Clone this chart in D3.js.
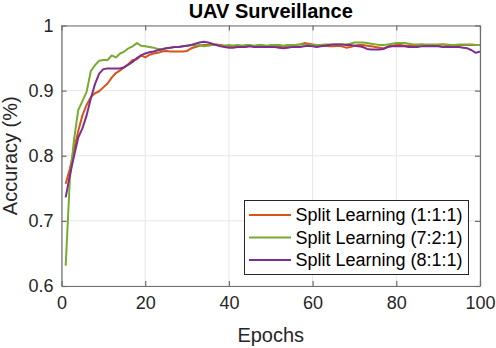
<!DOCTYPE html>
<html>
<head>
<meta charset="utf-8">
<script src="https://cdn.jsdelivr.net/npm/d3@7"></script>
<style>
  body { margin: 0; background: #fff; }
  svg { display: block; font-family: "Liberation Sans", Arial, Helvetica, sans-serif; }
</style>
</head>
<body>
<div id="chart"></div>
<script>
// chart data
var title = "UAV Surveillance";
var xLabel = "Epochs";
var yLabel = "Accuracy (%)";
var xTicks = [0, 20, 40, 60, 80, 100];
var yTicks = [0.6, 0.7, 0.8, 0.9, 1];
var seriesNames = ["Split Learning (1:1:1)", "Split Learning (7:2:1)", "Split Learning (8:1:1)"];
var seriesColors = ["#D95319", "#77AC30", "#7E2F8E"];

// accuracy per epoch (epochs 1..100)
var split111 = [
  0.757, 0.780, 0.810, 0.838, 0.862, 0.878, 0.890, 0.896, 0.899, 0.905,
  0.911, 0.920, 0.927, 0.931, 0.936, 0.941, 0.947, 0.948, 0.954, 0.951,
  0.955, 0.957, 0.958, 0.960, 0.961, 0.960, 0.960, 0.960, 0.960, 0.961,
  0.965, 0.967, 0.969, 0.970, 0.970, 0.970, 0.971, 0.970, 0.969, 0.968,
  0.969, 0.969, 0.969, 0.968, 0.969, 0.968, 0.968, 0.968, 0.968, 0.968,
  0.968, 0.969, 0.968, 0.969, 0.969, 0.970, 0.971, 0.973, 0.972, 0.971,
  0.970, 0.969, 0.969, 0.968, 0.968, 0.969, 0.968, 0.966, 0.967, 0.969,
  0.970, 0.970, 0.969, 0.968, 0.967, 0.966, 0.965, 0.968, 0.969, 0.970,
  0.970, 0.969, 0.969, 0.970, 0.970, 0.971, 0.970, 0.970, 0.970, 0.970,
  0.971, 0.970, 0.969, 0.969, 0.970, 0.970, 0.970, 0.970, 0.970, 0.970
];
var split721 = [
  0.631, 0.765, 0.825, 0.870, 0.884, 0.898, 0.930, 0.939, 0.946, 0.947,
  0.947, 0.954, 0.951, 0.957, 0.960, 0.965, 0.968, 0.973, 0.969, 0.968,
  0.967, 0.966, 0.964, 0.964, 0.965, 0.966, 0.967, 0.967, 0.968, 0.969,
  0.970, 0.969, 0.970, 0.968, 0.969, 0.970, 0.970, 0.969, 0.969, 0.970,
  0.969, 0.970, 0.969, 0.970, 0.970, 0.969, 0.970, 0.970, 0.969, 0.970,
  0.970, 0.970, 0.969, 0.970, 0.970, 0.970, 0.971, 0.971, 0.970, 0.970,
  0.970, 0.970, 0.971, 0.971, 0.971, 0.971, 0.971, 0.971, 0.972, 0.974,
  0.974, 0.974, 0.973, 0.972, 0.971, 0.970, 0.970, 0.971, 0.972, 0.973,
  0.973, 0.973, 0.972, 0.971, 0.971, 0.971, 0.971, 0.971, 0.971, 0.971,
  0.971, 0.971, 0.970, 0.970, 0.971, 0.971, 0.971, 0.971, 0.970, 0.970
];
var split811 = [
  0.736, 0.770, 0.800, 0.828, 0.842, 0.862, 0.888, 0.910, 0.926, 0.933,
  0.934, 0.934, 0.934, 0.934, 0.936, 0.940, 0.944, 0.950, 0.954, 0.957,
  0.959, 0.960, 0.962, 0.963, 0.965, 0.966, 0.967, 0.967, 0.968, 0.969,
  0.970, 0.972, 0.974, 0.975, 0.974, 0.972, 0.970, 0.968, 0.967, 0.966,
  0.966, 0.967, 0.967, 0.967, 0.968, 0.967, 0.967, 0.967, 0.967, 0.967,
  0.967, 0.966, 0.965, 0.966, 0.967, 0.967, 0.967, 0.968, 0.969, 0.968,
  0.967, 0.968, 0.969, 0.970, 0.971, 0.971, 0.971, 0.970, 0.970, 0.969,
  0.968, 0.967, 0.964, 0.963, 0.963, 0.963, 0.964, 0.967, 0.968, 0.968,
  0.968, 0.968, 0.967, 0.967, 0.967, 0.968, 0.968, 0.968, 0.968, 0.968,
  0.967, 0.967, 0.967, 0.967, 0.967, 0.966, 0.965, 0.962, 0.958, 0.960
];
var allSeries = [split111, split721, split811];

var w = 496;
var h = 348;
var margin = { left: 61.5, right: 16, top: 25.5, bottom: 62 };
var axisColor = "#262626";

var svg = d3.select("#chart")
  .append("svg")
  .attr("width", w)
  .attr("height", h);

var xScale = d3.scaleLinear()
  .domain([0, 100])
  .range([margin.left, w - margin.right]);

var yScale = d3.scaleLinear()
  .domain([0.6, 1])
  .range([h - margin.bottom, margin.top]);

// grid lines
svg.append("g")
  .selectAll("line")
  .data(xTicks)
  .enter()
  .append("line")
  .attr("x1", function(d) { return xScale(d); })
  .attr("x2", function(d) { return xScale(d); })
  .attr("y1", margin.top)
  .attr("y2", h - margin.bottom)
  .attr("stroke", "#e6e6e6")
  .attr("stroke-width", 1);

svg.append("g")
  .selectAll("line")
  .data(yTicks)
  .enter()
  .append("line")
  .attr("x1", margin.left)
  .attr("x2", w - margin.right)
  .attr("y1", function(d) { return yScale(d); })
  .attr("y2", function(d) { return yScale(d); })
  .attr("stroke", "#e6e6e6")
  .attr("stroke-width", 1);

// data lines
var line = d3.line()
  .x(function(d, i) { return xScale(i + 1); })
  .y(function(d) { return yScale(d); });

svg.append("g")
  .selectAll("path")
  .data(allSeries)
  .enter()
  .append("path")
  .attr("d", line)
  .attr("fill", "none")
  .attr("stroke", function(d, i) { return seriesColors[i]; })
  .attr("stroke-width", 2)
  .attr("stroke-linejoin", "round");

// axes, ticks pointing inward like matlab
var tickLen = 5;
var xAxis = d3.axisBottom(xScale).tickValues(xTicks).tickSizeInner(-tickLen).tickSizeOuter(0).tickPadding(10);
var yAxis = d3.axisLeft(yScale).tickValues(yTicks).tickSizeInner(-tickLen).tickSizeOuter(0).tickPadding(8)
  .tickFormat(function(d) { return d === 1 ? "1" : d3.format(".1f")(d); });
var xAxisTop = d3.axisTop(xScale).tickValues(xTicks).tickSizeInner(-tickLen).tickSizeOuter(0).tickFormat("");
var yAxisRight = d3.axisRight(yScale).tickValues(yTicks).tickSizeInner(-tickLen).tickSizeOuter(0).tickFormat("");

var gx = svg.append("g")
  .attr("transform", "translate(0," + (h - margin.bottom) + ")")
  .call(xAxis);
var gy = svg.append("g")
  .attr("transform", "translate(" + margin.left + ",0)")
  .call(yAxis);
var gxt = svg.append("g")
  .attr("transform", "translate(0," + margin.top + ")")
  .call(xAxisTop);
var gyr = svg.append("g")
  .attr("transform", "translate(" + (w - margin.right) + ",0)")
  .call(yAxisRight);

[gx, gy, gxt, gyr].forEach(function(g) {
  g.selectAll(".domain").attr("stroke", "#6e6e6e").attr("stroke-width", 1.2);
  g.selectAll(".tick line").attr("stroke", "#6e6e6e").attr("stroke-width", 1.2);
  g.selectAll(".tick text")
    .attr("fill", axisColor)
    .style("font-size", "18px")
    .style("font-family", "'Liberation Sans', Arial, sans-serif");
});

// title and axis labels
svg.append("text")
  .attr("x", (margin.left + w - margin.right) / 2)
  .attr("y", 18)
  .attr("text-anchor", "middle")
  .attr("font-weight", "bold")
  .attr("font-size", "20px")
  .attr("fill", "#000")
  .text(title);

svg.append("text")
  .attr("x", (margin.left + w - margin.right) / 2)
  .attr("y", 342)
  .attr("text-anchor", "middle")
  .attr("font-size", "20px")
  .attr("fill", axisColor)
  .text(xLabel);

svg.append("text")
  .attr("transform", "translate(17," + yScale(0.8) + ") rotate(-90)")
  .attr("text-anchor", "middle")
  .attr("font-size", "20px")
  .attr("fill", axisColor)
  .text(yLabel);

// legend
var legend = svg.append("g")
  .attr("transform", "translate(244.5,200.5)");

legend.append("rect")
  .attr("width", 224)
  .attr("height", 74)
  .attr("fill", "#fff")
  .attr("stroke", axisColor)
  .attr("stroke-width", 1);

var rows = legend.selectAll("g.row")
  .data(seriesNames)
  .enter()
  .append("g")
  .attr("class", "row")
  .attr("transform", function(d, i) { return "translate(0," + (14.5 + i * 22.5) + ")"; });

rows.append("line")
  .attr("x1", 4.5)
  .attr("x2", 46.5)
  .attr("stroke", function(d, i) { return seriesColors[i]; })
  .attr("stroke-width", 2);

rows.append("text")
  .attr("x", 51)
  .attr("dy", "0.35em")
  .attr("font-size", "18px")
  .attr("fill", "#000")
  .text(function(d) { return d; });
</script>
</body>
</html>
